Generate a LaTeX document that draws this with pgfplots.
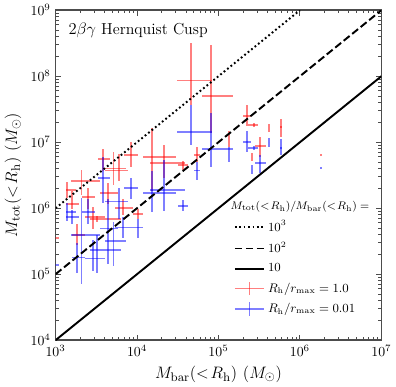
\documentclass[border=0pt]{standalone}
\usepackage{pgfplots}
\pgfplotsset{compat=1.18}
\usepackage{pgfplotstable}

% x, x range, M_tot for R_h/r_max = 1.0 (r) and 0.01 (b), each with range
\pgfplotstableread{
x       xlo     xhi     yr      yrlo    yrhi    yb      yblo    ybhi
1.83e6  1.83e6  1.83e6  6.44e6  6.2e6   6.7e6   4.03e6  3.9e6   4.2e6
5.86e5  5.7e5   6.0e5   1.69e7  1.22e7  2.25e7  8.22e6  6.40e6  1.10e7
4.13e5  4.13e5  4.13e5  1.63e7  1.41e7  1.89e7  9.86e6  8.50e6  1.14e7
2.23e5  1.99e5  2.51e5  2.52e7  1.75e7  3.61e7  1.02e7  7.1e6   1.46e7
2.74e5  2.30e5  3.08e5  1.82e7  1.69e7  1.95e7  8.22e6  7.65e6  8.83e6
3.27e5  2.83e5  3.78e5  8.85e6  5.95e6  1.22e7  4.79e6  3.46e6  6.39e6
2.59e5  2.59e5  2.59e5  5.94e6  5.14e6  6.87e6  3.86e6  3.34e6  4.46e6
1.36e5  1.36e5  1.36e5  1.14e7  8.5e6   1.47e7  6.39e6  4.96e6  8.5e6
5.50e4  5.0e4   6.0e4   6.39e6  4.96e6  8.5e6   3.72e6  2.69e6  4.96e6
4.60e4  3.06e4  8.25e4  8.59e7  3.62e7  3.15e8  1.41e7  9.17e6  3.62e7
8.03e4  6.2e4   1.52e5  5.00e7  1.37e7  2.93e8  7.94e6  4.16e6  2.81e7
1.52e4  1.17e4  2.97e4  5.94e6  1.81e6  1.63e7  1.68e6  8.8e5   3.72e6
2.15e4  1.43e4  3.86e4  4.79e6  2.89e6  9.15e6  1.87e6  9.1e5   5.33e6
3.65e4  3.16e4  4.21e4  4.46e6  3.86e6  5.15e6  1.09e6  9.1e5   1.31e6
5.95e3  4.07e3  7.74e3  3.72e6  2.59e6  6.62e6  1.26e6  6.8e5   2.01e6
1.04e4  9.0e3   1.20e4  8.17e5  6.8e5   9.8e5   5.11e5  3.56e5  6.8e5
6.69e3  5.44e3  8.97e3  1.01e6  7.9e5   1.40e6  5.11e5  3.56e5  7.3e5
3.84e3  3.32e3  4.71e3  5.53e6  3.72e6  7.9e6   2.89e6  1.18e6  5.94e6
5.14e3  4.07e3  7.31e3  4.00e6  2.25e6  7.12e6  3.20e5  1.35e5  6.1e5
2.08e3  1.55e3  3.52e3  2.59e6  1.56e6  3.86e6  3.97e5  7.0e4   1.41e6
1.38e3  1.34e3  1.80e3  1.87e6  1.41e6  2.50e6  8.79e5  6.35e5  1.22e6
2.48e3  2.14e3  3.05e3  1.46e6  9.8e5   2.01e6  8.79e5  5.7e5   1.40e6
2.86e3  2.27e3  4.07e3  7.33e5  4.76e5  1.05e6  1.73e5  1.12e5  3.3e5
4.44e3  3.52e3  5.78e3  1.68e6  1.17e6  2.41e6  4.93e5  1.45e5  1.40e6
1.85e3  1.60e3  2.27e3  3.97e5  2.77e5  5.7e5   1.79e5  1.04e5  2.97e5
8.9e2   6.3e2   1.09e3  3.56e5  3.43e5  3.7e5   1.39e5  1.34e5  1.45e5
1.60e3  1.34e3  1.96e3  1.17e6  9.8e5   1.81e6  7.33e5  5.7e5   9.4e5
3.22e3  2.62e3  6.30e3  6.82e5  6.1e5   7.6e5   2.31e5  1.04e5  3.97e5
8.45e3  6.88e3  1.04e4  6.39e6  4.15e6  1.02e7  2.01e6  1.40e6  2.89e6
}\halos

\pgfplotsset{
  cross/.style={draw=none, mark=none, forget plot,
    error bars/.cd, x dir=both, x explicit, y dir=both, y explicit,
    error mark=none,
    error bar style={draw=#1, line width=1.3pt, opacity=0.5}},
  crosslegend/.style={legend image code/.code={
    \draw[#1, opacity=0.5, line width=1.3pt] (0cm,0cm) -- (0.75cm,0cm);
    \draw[#1, opacity=0.5, line width=1.3pt] (0.375cm,-0.17cm) -- (0.375cm,0.17cm);}},
  linelegend/.style={legend image code/.code={
    \draw[black, line width=1.4pt, #1] (0cm,0cm) -- (0.75cm,0cm);}},
}

\begin{document}
\begin{tikzpicture}
\begin{axis}[
  scale only axis,
  width=236pt, height=239pt,
  xmode=log, ymode=log,
  xmin=1e3, xmax=1e7,
  ymin=1e4, ymax=1e9,
  axis line style={black!70, line width=1.1pt},
  tick align=inside,
  major tick length=4pt,
  minor tick length=2.2pt,
  tick style={black!70, line width=0.7pt},
  ticklabel style={font=\fontsize{10}{12}\selectfont},
  label style={font=\fontsize{13}{15}\selectfont},
  xlabel={$M_{\rm bar}(<\!R_{\rm h})\ (M_\odot)$},
  ylabel={$M_{\rm tot}(<\!R_{\rm h})\ (M_\odot)$},
  legend style={draw=none, fill=none, at={(0.985,0.06)}, anchor=south east,
    font=\fontsize{9}{11}\selectfont, row sep=2.5pt},
  legend cell align=left,
]
% R_h/r_max = 1.0
\addplot[cross=red] table[x=x, y=yr,
  x error plus expr=\thisrow{xhi}-\thisrow{x},
  x error minus expr=\thisrow{x}-\thisrow{xlo},
  y error plus expr=\thisrow{yrhi}-\thisrow{yr},
  y error minus expr=\thisrow{yr}-\thisrow{yrlo}] {\halos};
% R_h/r_max = 0.01
\addplot[cross=blue] table[x=x, y=yb,
  x error plus expr=\thisrow{xhi}-\thisrow{x},
  x error minus expr=\thisrow{x}-\thisrow{xlo},
  y error plus expr=\thisrow{ybhi}-\thisrow{yb},
  y error minus expr=\thisrow{yb}-\thisrow{yblo}] {\halos};

% constant ratio lines
\addplot[black, line width=1.4pt, dash pattern=on 1.3pt off 1.9pt, forget plot] coordinates {(1e3,1e6) (1e6,1e9)};
\addplot[black, line width=1.4pt, dash pattern=on 5.5pt off 2.4pt, forget plot] coordinates {(1e3,1e5) (1e7,1e9)};
\addplot[black, line width=1.4pt, forget plot] coordinates {(1e3,1e4) (1e7,1e8)};

\addlegendimage{empty legend}
\addlegendentry{\hspace{-0.95cm}\fontsize{8}{10}\selectfont$M_{\rm tot}(<\!R_{\rm h})/M_{\rm bar}(<\!R_{\rm h}) =$}
\addlegendimage{linelegend={dash pattern=on 1.3pt off 1.9pt}}
\addlegendentry{$10^3$}
\addlegendimage{linelegend={dash pattern=on 5.5pt off 2.4pt}}
\addlegendentry{$10^2$}
\addlegendimage{linelegend={}}
\addlegendentry{$10$}
\addlegendimage{crosslegend=red}
\addlegendentry{$R_{\rm h}/r_{\rm max} = 1.0$}
\addlegendimage{crosslegend=blue}
\addlegendentry{$R_{\rm h}/r_{\rm max} = 0.01$}

\node[anchor=north west, font=\fontsize{11.5}{13}\selectfont] at (rel axis cs:0.025,0.975) {$2\beta\gamma$ Hernquist Cusp};
\end{axis}
\end{tikzpicture}
\end{document}
